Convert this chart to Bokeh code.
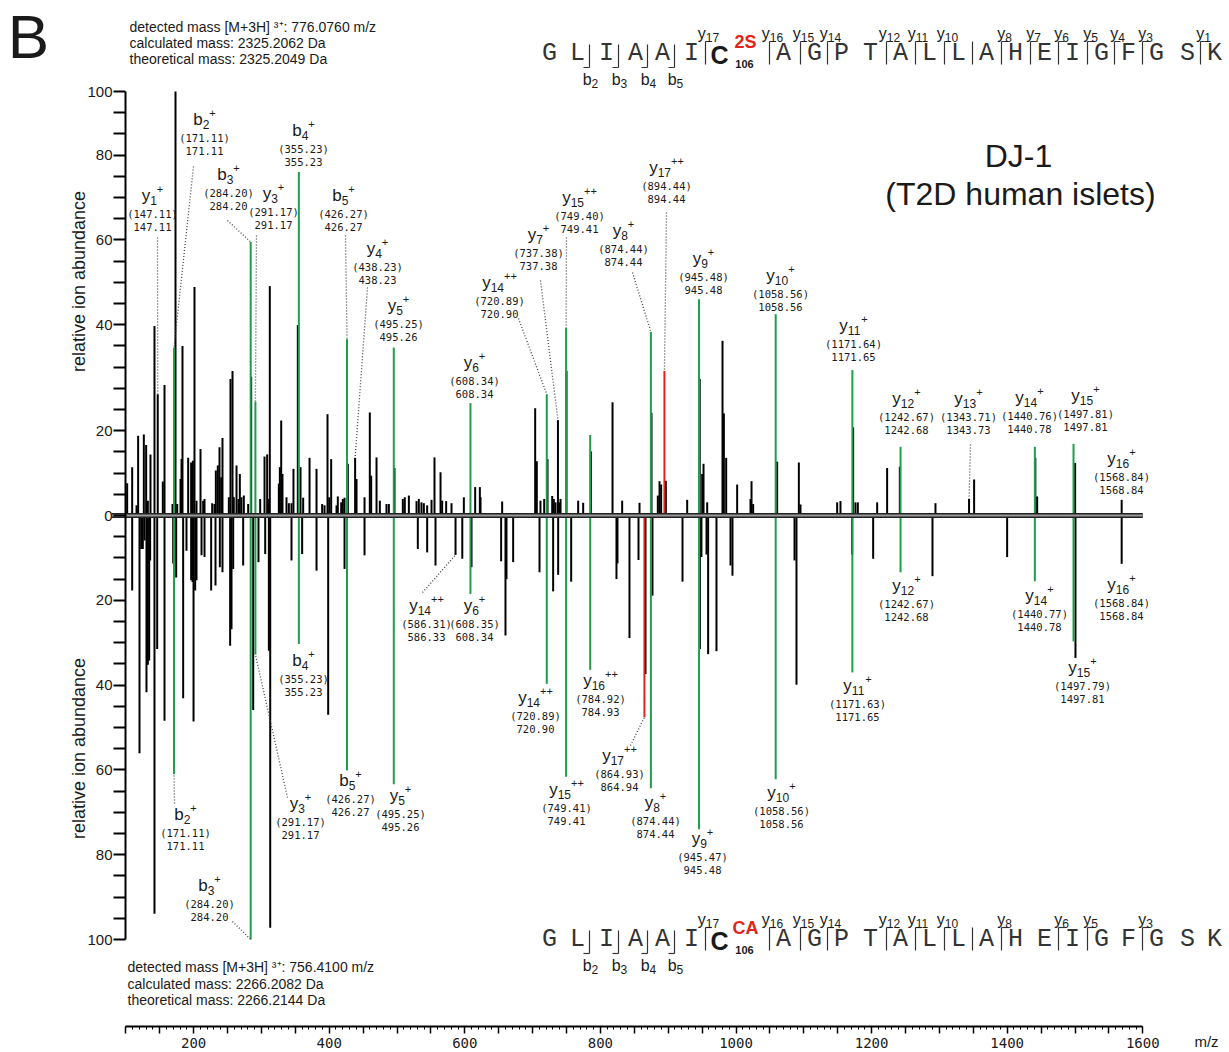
import numpy as np
from bokeh.plotting import figure
from bokeh.models import Range1d, FixedTicker, ColumnDataSource, LinearAxis
from bokeh.core.properties import value
from bokeh.embed import file_html
from bokeh.resources import INLINE

# ---------------- DATA ----------------
# Upper spectrum: DJ-1 peptide with C106 sulfinic acid (2S); unassigned peaks
top_mz = [102.0, 109.4, 115.8, 118.2, 126.6, 130.0, 132.5, 136.4, 142.3, 147.11,
          154.6, 157.1, 168.9, 173.3, 175.8, 180.7, 182.2, 183.6, 192.0, 196.4,
          198.9, 201.3, 204.3, 210.2, 214.1, 216.1, 227.4, 230.8, 232.8, 235.7,
          238.2, 240.7, 242.6, 252.0, 254.4, 257.4, 259.3, 263.3, 266.2, 268.2,
          270.6, 274.1, 280.5, 284.9, 298.2, 304.6, 308.5, 311.0, 312.4, 325.7,
          327.2, 329.2, 331.1, 337.0, 340.5, 344.4, 347.3, 353.7, 357.7, 361.6,
          371.0, 381.3, 389.6, 393.1, 397.5, 400.0, 402.9, 410.8, 412.7, 417.7,
          420.1, 422.6, 427.5, 438.23, 440.3, 452.1, 459.9, 461.9, 469.8, 474.7,
          484.5, 488.0, 496.3, 508.6, 511.5, 517.5, 528.8, 532.2, 536.1, 539.6,
          544.5, 550.9, 555.3, 564.2, 566.6, 572.5, 580.4, 598.6, 615.3, 622.2,
          623.2, 655.1, 703.8, 706.2, 711.6, 717.1, 722.0, 728.9, 731.3, 733.8,
          737.38, 739.5, 741.2, 750.0, 767.2, 774.6, 786.0, 817.9, 832.1, 857.7,
          875.4, 884.7, 887.2, 889.6, 896.5, 928.0, 946.5, 950.1, 952.1, 957.5,
          980.1, 982.1, 985.5, 1001.7, 1021.4, 1022.9, 1025.3, 1060.7, 1092.7, 1095.1,
          1149.2, 1154.1, 1172.8, 1176.2, 1179.7, 1208.2, 1222.9, 1241.6, 1294.2, 1343.73,
          1351.2, 1441.5, 1444.2, 1500.2, 1568.84]
top_int = [7.6, 11.4, 2.4, 18.8, 19.1, 16.6, 3.5, 14.4, 44.7, 28.6,
           8.0, 30.8, 2.7, 100.0, 2.7, 8.6, 13.3, 40.0, 13.6, 12.5,
           12.9, 53.9, 3.5, 15.7, 3.5, 3.9, 2.9, 2.7, 10.6, 11.8,
           16.1, 9.0, 18.3, 4.3, 32.2, 34.1, 4.3, 11.8, 3.9, 9.8,
           4.3, 4.7, 2.7, 32.7, 3.9, 13.9, 14.4, 3.9, 54.1, 7.5,
           11.4, 22.4, 9.8, 4.3, 2.9, 2.9, 11.0, 44.9, 11.4, 4.2,
           13.6, 11.0, 2.7, 2.4, 23.9, 4.3, 13.3, 2.4, 4.5, 3.1,
           3.9, 4.2, 12.2, 13.6, 8.6, 4.3, 24.3, 9.4, 13.7, 3.5,
           2.7, 2.7, 11.2, 3.9, 4.3, 4.7, 3.4, 3.9, 3.1, 2.9,
           2.4, 3.7, 13.7, 10.2, 3.5, 3.4, 2.9, 4.3, 6.7, 6.7,
           4.3, 3.3, 25.3, 12.8, 3.5, 3.9, 13.3, 4.6, 3.9, 3.1,
           22.5, 3.1, 3.9, 34.1, 3.5, 3.0, 15.1, 26.7, 3.5, 3.0,
           24.2, 4.7, 8.1, 7.3, 8.2, 3.7, 32.2, 9.8, 12.2, 3.1,
           41.2, 24.1, 13.6, 7.3, 3.9, 8.1, 2.7, 12.7, 12.5, 2.6,
           3.1, 3.4, 20.8, 3.1, 3.1, 3.1, 11.2, 11.5, 2.9, 3.9,
           8.5, 13.6, 4.5, 12.4, 3.7]
# assigned fragment ions (green) and the C106-containing ion (red)
top_ion_mz = [171.11, 284.20, 291.17, 355.23, 426.27, 495.26, 608.34, 720.90, 749.41,
              784.93, 874.44, 945.48, 1058.56, 1171.65, 1242.68, 1440.78, 1497.81]
top_ion_int = [39.6, 64.5, 26.8, 81.0, 41.6, 39.6, 26.5, 28.6, 44.3,
               19.0, 43.3, 51.0, 47.5, 34.3, 16.2, 16.2, 16.9]
top_red_mz = [894.44]
top_red_int = [34.1]

# Lower spectrum: carbamidomethylated C106 (CA); unassigned peaks
bot_mz = [109.4, 120.2, 122.7, 125.1, 127.6, 130.5, 132.5, 134.5, 135.9, 142.3,
          146.3, 157.1, 169.9, 174.3, 184.6, 189.5, 196.4, 198.4, 199.9, 202.3,
          204.3, 211.7, 216.1, 225.9, 232.3, 238.7, 242.6, 253.9, 255.9, 258.4,
          273.1, 287.9, 295.7, 305.6, 311.0, 313.0, 344.4, 360.1, 381.3, 398.5,
          422.6, 452.1, 530.7, 544.5, 556.8, 586.33, 596.3, 609.9, 653.6, 660.0,
          661.5, 671.3, 710.2, 730.3, 737.7, 756.9, 823.7, 825.2, 842.9, 856.2,
          866.5, 876.8, 921.1, 946.7, 949.0, 956.5, 958.9, 971.2, 991.9, 994.8,
          1086.3, 1089.2, 1171.3, 1202.3, 1289.8, 1399.9, 1500.7, 1568.84]
bot_int = [17.7, 56.1, 7.9, 7.9, 5.9, 41.7, 35.2, 34.2, 10.6, 93.9,
           31.5, 48.4, 11.3, 14.6, 43.1, 8.3, 15.3, 15.7, 48.6, 17.7,
           15.3, 9.4, 9.8, 17.7, 16.5, 12.2, 13.4, 30.7, 26.8, 12.6,
           11.8, 45.9, 11.0, 9.1, 31.9, 97.2, 10.6, 9.1, 13.0, 47.0,
           12.6, 9.4, 7.9, 8.7, 11.8, 9.3, 10.2, 12.2, 10.8, 28.3,
           15.0, 11.0, 13.4, 17.9, 14.0, 15.6, 15.0, 11.3, 28.9, 10.5,
           37.4, 18.9, 15.6, 31.5, 9.8, 9.2, 32.7, 32.0, 11.8, 14.2,
           10.6, 39.9, 9.2, 10.2, 14.3, 9.8, 33.6, 11.4]
bot_ion_mz = [171.11, 284.20, 291.17, 355.23, 426.27, 495.26, 608.34, 720.90, 749.41,
              784.93, 874.44, 945.48, 1058.56, 1171.65, 1242.68, 1440.78, 1497.81]
bot_ion_int = [61.0, 100.0, 32.8, 30.3, 60.1, 63.4, 18.5, 39.7, 61.6,
               36.4, 64.3, 74.0, 62.2, 37.0, 13.4, 15.5, 29.7]
bot_red_mz = [864.94]
bot_red_int = [47.6]

# ion annotations: (series, number, charge, theoretical, observed)
top_ann = [("y", 1, 1, "147.11", "147.11"), ("b", 2, 1, "171.11", "171.11"),
           ("b", 3, 1, "284.20", "284.20"), ("y", 3, 1, "291.17", "291.17"),
           ("b", 4, 1, "355.23", "355.23"), ("b", 5, 1, "426.27", "426.27"),
           ("y", 4, 1, "438.23", "438.23"), ("y", 5, 1, "495.25", "495.26"),
           ("y", 6, 1, "608.34", "608.34"), ("y", 14, 2, "720.89", "720.90"),
           ("y", 7, 1, "737.38", "737.38"), ("y", 15, 2, "749.40", "749.41"),
           ("y", 8, 1, "874.44", "874.44"), ("y", 17, 2, "894.44", "894.44"),
           ("y", 9, 1, "945.48", "945.48"), ("y", 10, 1, "1058.56", "1058.56"),
           ("y", 11, 1, "1171.64", "1171.65"), ("y", 12, 1, "1242.67", "1242.68"),
           ("y", 13, 1, "1343.71", "1343.73"), ("y", 14, 1, "1440.76", "1440.78"),
           ("y", 15, 1, "1497.81", "1497.81"), ("y", 16, 1, "1568.84", "1568.84")]
bot_ann = [("b", 2, 1, "171.11", "171.11"), ("b", 3, 1, "284.20", "284.20"),
           ("y", 3, 1, "291.17", "291.17"), ("b", 4, 1, "355.23", "355.23"),
           ("b", 5, 1, "426.27", "426.27"), ("y", 5, 1, "495.25", "495.26"),
           ("y", 14, 2, "586.31", "586.33"), ("y", 6, 1, "608.35", "608.34"),
           ("y", 14, 2, "720.89", "720.90"), ("y", 15, 2, "749.41", "749.41"),
           ("y", 16, 2, "784.92", "784.93"), ("y", 17, 2, "864.93", "864.94"),
           ("y", 8, 1, "874.44", "874.44"), ("y", 9, 1, "945.47", "945.48"),
           ("y", 10, 1, "1058.56", "1058.56"), ("y", 11, 1, "1171.63", "1171.65"),
           ("y", 12, 1, "1242.67", "1242.68"), ("y", 14, 1, "1440.77", "1440.78"),
           ("y", 15, 1, "1497.79", "1497.81"), ("y", 16, 1, "1568.84", "1568.84")]

peptide = "GLIAAICAGPTALLAHEIGFGSK"
top_y_marks = [17, 16, 15, 14, 12, 11, 10, 9, 8, 7, 6, 5, 4, 3, 1]
top_y_labels = [17, 16, 15, 14, 12, 11, 10, 8, 7, 6, 5, 4, 3, 1]
bot_y_marks = [17, 16, 15, 14, 12, 11, 10, 9, 8, 6, 5, 3]
bot_y_labels = [17, 16, 15, 14, 12, 11, 10, 8, 6, 5, 3]
b_marks = [2, 3, 4, 5]

y_ticks = list(range(-100, 101, 5))
y_tick_text = {100: "100", 85: "80", 65: "60", 45: "40", 20: "20", 0: "0",
               -20: "20", -40: "40", -60: "60", -80: "80", -100: "100"}
x_major = list(range(100, 1601, 50))
x_minor = list(range(100, 1601, 10))
x_labelled = [200, 400, 600, 800, 1000, 1200, 1400, 1600]

# ---------------- LAYOUT (pixel placement of annotations) ----------------
W, H = 1229, 1052
X0, XS = 57.5, 0.678      # px = X0 + XS * m/z
Y0, YS = 515.0, 4.24      # py = Y0 - YS * value


def fx(px):
    return (px - X0) / XS


def fy(py):
    return (Y0 - py) / YS


top_ann_pos = [(152, 195), (204, 119), (228, 174), (273, 193), (303, 130), (343, 195),
               (377, 248), (398, 305), (474, 362), (499, 282), (538, 234), (579, 197),
               (623, 230), (666, 167), (703, 258), (780, 275), (853, 325), (906, 398),
               (968, 398), (1029, 397), (1085, 395), (1121, 458)]
bot_ann_pos = [(185, 814), (209, 885), (300, 803), (303, 660), (350, 780), (400, 795),
               (426, 605), (474, 605), (535, 697), (566, 789), (600, 680), (619, 755),
               (655, 802), (702, 838), (781, 792), (857, 685), (906, 585), (1039, 595),
               (1082, 667), (1121, 584)]
# leaders: (label end px, label end py, m/z of the peak they point to)
top_leaders = [(157, 237, 147.11), (193, 166, 171.11), (227, 220, 284.20), (256, 235, 291.17),
               (345, 235, 426.27), (367, 287, 438.23), (518, 318, 720.90), (540, 280, 737.38),
               (566, 237, 749.41), (632, 272, 874.44), (666, 212, 894.44), (970, 444, 1343.73)]
bot_leaders = [(174, 803, 171.11), (232, 921, 284.20), (287, 797, 291.17),
               (422, 592, 586.33), (630, 745, 864.94)]
letter_px = [549, 577, 606, 635, 662, 691, 719, 783, 814, 841, 870, 900, 929, 958, 986,
             1015, 1044, 1072, 1101, 1128, 1156, 1187, 1214]

GREEN = "#1f9e4a"
RED = "#e2231a"
INK = "#1a1a1a"
SANS = "Liberation Sans"
MONO = "DejaVu Sans Mono"

p = figure(frame_width=W, frame_height=H,
           x_range=Range1d(fx(0), fx(W)), y_range=Range1d(fy(H), fy(0)),
           x_axis_location=None, y_axis_location=None,
           output_backend="svg", toolbar_location=None,
           min_border_left=0, min_border_right=0, min_border_top=0, min_border_bottom=0)
p.outline_line_color = None
p.xgrid.visible = False
p.ygrid.visible = False

# axes (drawn at fixed data locations inside the frame)
ya = LinearAxis(fixed_location=fx(125), bounds=(-100, 100),
                ticker=FixedTicker(ticks=y_ticks, minor_ticks=[]))
ya.major_label_overrides = {t: y_tick_text.get(t, "") for t in y_ticks}
ya.major_tick_out = 12
ya.major_tick_in = 0
ya.minor_tick_out = 0
ya.axis_line_width = 2
ya.major_tick_line_width = 2
ya.major_label_text_font = SANS
ya.major_label_text_font_size = "15px"
ya.major_label_text_color = INK
ya.major_label_standoff = 1
p.add_layout(ya, "left")

xa = LinearAxis(fixed_location=fy(1026), bounds=(fx(125), 1600),
                ticker=FixedTicker(ticks=x_major, minor_ticks=x_minor))
xa.major_label_overrides = {t: (str(t) if t in x_labelled else "") for t in x_major}
xa.major_tick_out = 7
xa.major_tick_in = 0
xa.minor_tick_out = 3
xa.minor_tick_in = 0
xa.axis_line_width = 2
xa.major_tick_line_width = 1.5
xa.major_label_text_font = MONO
xa.major_label_text_font_size = "14px"
xa.major_label_text_color = INK
xa.major_label_standoff = 4
p.add_layout(xa, "below")

# peaks
def sticks(mz, inten, sign, color, width):
    src = ColumnDataSource(dict(x=mz, y0=[0] * len(mz), y1=[sign * v for v in inten]))
    p.segment(x0="x", y0="y0", x1="x", y1="y1", source=src, line_color=color,
              line_width=width, line_cap="butt")

sticks(top_mz, top_int, 1, "black", 2)
sticks(bot_mz, bot_int, -1, "black", 2)
sticks(top_ion_mz, top_ion_int, 1, GREEN, 2)
sticks(bot_ion_mz, bot_ion_int, -1, GREEN, 2)
sticks(top_red_mz, top_red_int, 1, RED, 2)
sticks(bot_red_mz, bot_red_int, -1, RED, 2)

# baseline
p.segment(x0=[fx(111)], y0=[0], x1=[1600], y1=[0], line_color="#222", line_width=5)
p.segment(x0=[fx(111)], y0=[0], x1=[1600], y1=[0], line_color="#9a9a9a", line_width=2)

# leaders
top_all = list(zip(top_mz + top_ion_mz + top_red_mz, top_int + top_ion_int + top_red_int))
bot_all = list(zip(bot_mz + bot_ion_mz + bot_red_mz, bot_int + bot_ion_int + bot_red_int))


def nearest(peaks, mz):
    return min(peaks, key=lambda t: abs(t[0] - mz))

lx0, ly0, lx1, ly1 = [], [], [], []
for px, py, mz in top_leaders:
    m, h = nearest(top_all, mz)
    lx0.append(fx(px)); ly0.append(fy(py)); lx1.append(m); ly1.append(h)
for px, py, mz in bot_leaders:
    m, h = nearest(bot_all, mz)
    lx0.append(fx(px)); ly0.append(fy(py)); lx1.append(m); ly1.append(-h)
p.segment(x0=lx0, y0=ly0, x1=lx1, y1=ly1, line_color="#444", line_width=1.3, line_dash="1 2")


# text helper
def texts(xs, ys, tt, font, size, color=INK, align="center", style="normal", angle=0.0):
    src = ColumnDataSource(dict(x=[fx(v) for v in xs], y=[fy(v) for v in ys], t=tt))
    p.text(x="x", y="y", text="t", source=src, text_font=value(font), text_font_size=size,
           text_color=color, text_align=align, text_baseline="middle", text_font_style=style,
           angle=angle)


ADV = {"y": 0.5, "b": 0.556, "+": 0.584}


def ion_names(items, base, sub, sup):
    """items: (series, number, charge, cx, cy) -> letter + subscript + superscript."""
    bx, by, bt, sx, sy, st, ux, uy, ut = [], [], [], [], [], [], [], [], []
    for s, n, z, cx, cy in items:
        wb = ADV[s] * base
        ws = 0.556 * sub * len(str(n))
        wu = 0.584 * sup * z
        left = cx - (wb + ws + wu) / 2
        bx.append(left); by.append(cy); bt.append(s)
        sx.append(left + wb); sy.append(cy + base * 0.28); st.append(str(n))
        if z:
            ux.append(left + wb + ws); uy.append(cy - base * 0.38); ut.append("+" * z)
    texts(bx, by, bt, SANS, f"{base}px", align="left")
    texts(sx, sy, st, SANS, f"{sub}px", align="left")
    if ut:
        texts(ux, uy, ut, SANS, f"{sup}px", align="left")


for ann, pos in ((top_ann, top_ann_pos), (bot_ann, bot_ann_pos)):
    xs = [q[0] for q in pos]
    ys = [q[1] for q in pos]
    ion_names([(a[0], a[1], a[2], q[0], q[1]) for a, q in zip(ann, pos)], 17, 12, 11)
    texts(xs, [y + 18 for y in ys], ["(" + a[3] + ")" for a in ann], MONO, "10.5px")
    texts(xs, [y + 31 for y in ys], [a[4] for a in ann], MONO, "10.5px")

# mass information
texts([129, 129, 129], [26, 42, 58],
      ["detected mass [M+3H] ³⁺: 776.0760 m/z", "calculated mass: 2325.2062 Da",
       "theoretical mass: 2325.2049 Da"], SANS, "14px", align="left")
texts([127, 127, 127], [966, 983, 999],
      ["detected mass [M+3H] ³⁺: 756.4100 m/z", "calculated mass: 2266.2082 Da",
       "theoretical mass: 2266.2144 Da"], SANS, "14px", align="left")

# title and panel letter
texts([1018, 1020], [155, 193], ["DJ-1", "(T2D human islets)"], SANS, "32px")
texts([28], [36], ["B"], SANS, "62px")
texts([78, 78], [281, 748], ["relative ion abundance"] * 2, SANS, "18px", angle=np.pi / 2)
texts([1206], [1041], ["m/z"], SANS, "15px")


# peptide sequences
def sequence(dy, y_marks, y_labels, mod):
    idx = [i for i in range(len(peptide)) if i != 6]
    texts([letter_px[i] for i in idx], [53 + dy] * len(idx), [peptide[i] for i in idx],
          "Liberation Mono", "25px", color="#333333")
    texts([letter_px[6]], [54 + dy], ["C"], SANS, "25px", style="bold")
    texts([745], [41 + dy], [mod], SANS, "18px", color=RED, style="bold")
    texts([744], [63 + dy], ["106"], SANS, "11px", style="bold")
    sx0, sy0, sx1, sy1 = [], [], [], []
    for n in y_marks:
        bx = letter_px[len(peptide) - n] - 14
        sx0 += [fx(bx)]; sy0 += [fy(41 + dy)]; sx1 += [fx(bx)]; sy1 += [fy(64 + dy)]
        if n != 9:
            sx0 += [fx(bx)]; sy0 += [fy(41 + dy)]; sx1 += [fx(bx + 6)]; sy1 += [fy(41 + dy)]
    for n in b_marks:
        bx = letter_px[n - 1] + 12
        sx0 += [fx(bx)]; sy0 += [fy(44 + dy)]; sx1 += [fx(bx)]; sy1 += [fy(67 + dy)]
        sx0 += [fx(bx - 6)]; sy0 += [fy(67 + dy)]; sx1 += [fx(bx)]; sy1 += [fy(67 + dy)]
    p.segment(x0=sx0, y0=sy0, x1=sx1, y1=sy1, line_color="#333", line_width=1.2)
    ion_names([("y", n, 0, letter_px[len(peptide) - n] - 11, 33 + dy) for n in y_labels],
              16, 12, 10)
    ion_names([("b", n, 0, letter_px[n - 1] + 13, 79 + dy) for n in b_marks], 16, 12, 10)

sequence(0, top_y_marks, top_y_labels, "2S")
sequence(886, bot_y_marks, bot_y_labels, "CA")

open("out.html", "w").write(file_html(p, INLINE))
